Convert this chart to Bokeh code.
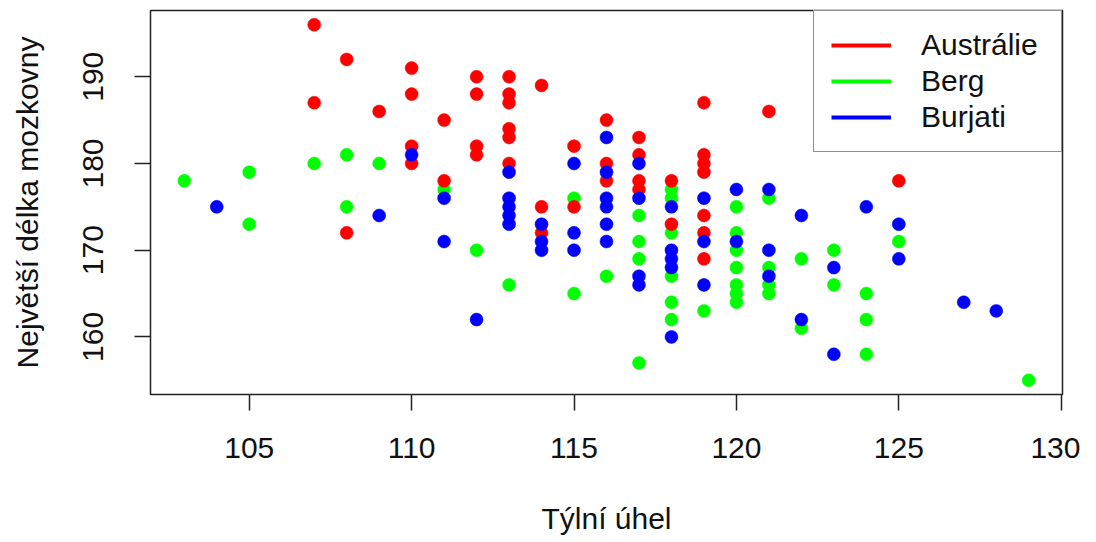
from bokeh.plotting import figure
from bokeh.models import Range1d, FixedTicker, Legend, LegendItem
from bokeh.embed import file_html
from bokeh.resources import INLINE

# ---- data ----
groups = ["Austrálie", "Berg", "Burjati"]
colors = ["#FF0000", "#00FF00", "#0000FF"]

aus_x = [107, 107, 108, 108, 109, 110, 110, 110, 110, 111, 111, 112, 112, 112, 112,
         113, 113, 113, 113, 113, 113, 114, 114, 114, 115, 115, 116, 116, 116,
         117, 117, 117, 117, 118, 118, 119, 119, 119, 119, 119, 119, 119, 121, 125]
aus_y = [196, 187, 192, 172, 186, 191, 188, 182, 180, 185, 178, 190, 188, 182, 181,
         190, 188, 187, 184, 183, 180, 189, 175, 172, 182, 175, 185, 180, 178,
         183, 181, 178, 177, 178, 173, 187, 181, 180, 179, 174, 172, 169, 186, 178]

berg_x = [103, 105, 105, 107, 108, 108, 109, 111, 112, 113, 115, 115, 116,
          117, 117, 117, 117, 118, 118, 118, 118, 118, 118, 119,
          120, 120, 120, 120, 120, 120, 120, 121, 121, 121, 121,
          122, 122, 123, 123, 124, 124, 124, 125, 129]
berg_y = [178, 179, 173, 180, 181, 175, 180, 177, 170, 166, 176, 165, 167,
          174, 171, 169, 157, 177, 176, 172, 167, 164, 162, 163,
          175, 172, 170, 168, 166, 165, 164, 176, 168, 166, 165,
          169, 161, 170, 166, 165, 162, 158, 171, 155]

bur_x = [104, 109, 110, 111, 111, 112, 113, 113, 113, 113, 113, 114, 114, 114,
         115, 115, 115, 116, 116, 116, 116, 116, 116, 117, 117, 117, 117,
         118, 118, 118, 118, 118, 119, 119, 119, 120, 120, 121, 121, 121,
         122, 122, 123, 123, 124, 125, 125, 127, 128]
bur_y = [175, 174, 181, 176, 171, 162, 179, 176, 175, 174, 173, 173, 171, 170,
         180, 172, 170, 183, 179, 176, 175, 173, 171, 180, 176, 167, 166,
         175, 170, 169, 168, 160, 176, 171, 166, 177, 171, 177, 170, 167,
         174, 162, 168, 158, 175, 173, 169, 164, 163]

x_ticks = [105, 110, 115, 120, 125, 130]
y_ticks = [160, 170, 180, 190]
x_label = "Týlní úhel"
y_label = "Největší délka mozkovny"

FONT = "Liberation Sans"
FS = "30px"

all_x = aus_x + berg_x + bur_x
all_y = aus_y + berg_y + bur_y
xpad = (max(all_x) - min(all_x)) * 0.04
ypad = (max(all_y) - min(all_y)) * 0.04

p = figure(width=1080, height=538, output_backend="svg", toolbar_location=None,
           x_range=Range1d(min(all_x) - xpad, max(all_x) + xpad),
           y_range=Range1d(min(all_y) - ypad, max(all_y) + ypad),
           min_border_left=150, min_border_right=18, min_border_top=10,
           min_border_bottom=144)
p.background_fill_color = "white"
p.border_fill_color = "white"
p.outline_line_color = "#222222"
p.outline_line_width = 1.5
p.xgrid.visible = False
p.ygrid.visible = False

for ax in (p.xaxis[0], p.yaxis[0]):
    ax.axis_line_color = None
    ax.major_tick_in = 0
    ax.major_tick_out = 16
    ax.major_tick_line_width = 1.5
    ax.major_tick_line_color = "#222222"
    ax.minor_tick_in = 0
    ax.minor_tick_out = 0
    ax.major_label_text_font = FONT
    ax.major_label_text_font_size = FS
    ax.major_label_text_color = "#111111"
    ax.axis_label_text_font = FONT
    ax.axis_label_text_font_size = FS
    ax.axis_label_text_font_style = "normal"
    ax.axis_label_text_color = "#111111"

p.xaxis.ticker = FixedTicker(ticks=x_ticks)
p.yaxis.ticker = FixedTicker(ticks=y_ticks)
p.yaxis.major_label_orientation = "vertical"
p.xaxis.axis_label = x_label
p.yaxis.axis_label = y_label
p.xaxis.major_label_standoff = 27
p.xaxis.axis_label_standoff = 41
p.yaxis.major_label_standoff = 31
p.yaxis.axis_label_standoff = 37

data = {"Austrálie": (aus_x, aus_y), "Berg": (berg_x, berg_y), "Burjati": (bur_x, bur_y)}
col = dict(zip(groups, colors))
for g in ["Berg", "Austrálie", "Burjati"]:
    xs, ys = data[g]
    p.scatter(xs, ys, size=13, fill_color=col[g], line_color=col[g], line_width=0.5)

items = []
for g in groups:
    r = p.line([float("nan")], [float("nan")], line_color=col[g], line_width=4)
    items.append(LegendItem(label=g, renderers=[r]))

legend = Legend(items=items, location="top_right", margin=0,
                border_line_color="#222222", border_line_width=1.5,
                background_fill_color="white", background_fill_alpha=1,
                label_text_font=FONT, label_text_font_size=FS,
                label_text_color="#111111",
                glyph_width=60, glyph_height=32, label_height=32,
                spacing=2, padding=17, label_standoff=30, label_width=123)
p.add_layout(legend)

open("out.html", "w").write(file_html(p, INLINE))
